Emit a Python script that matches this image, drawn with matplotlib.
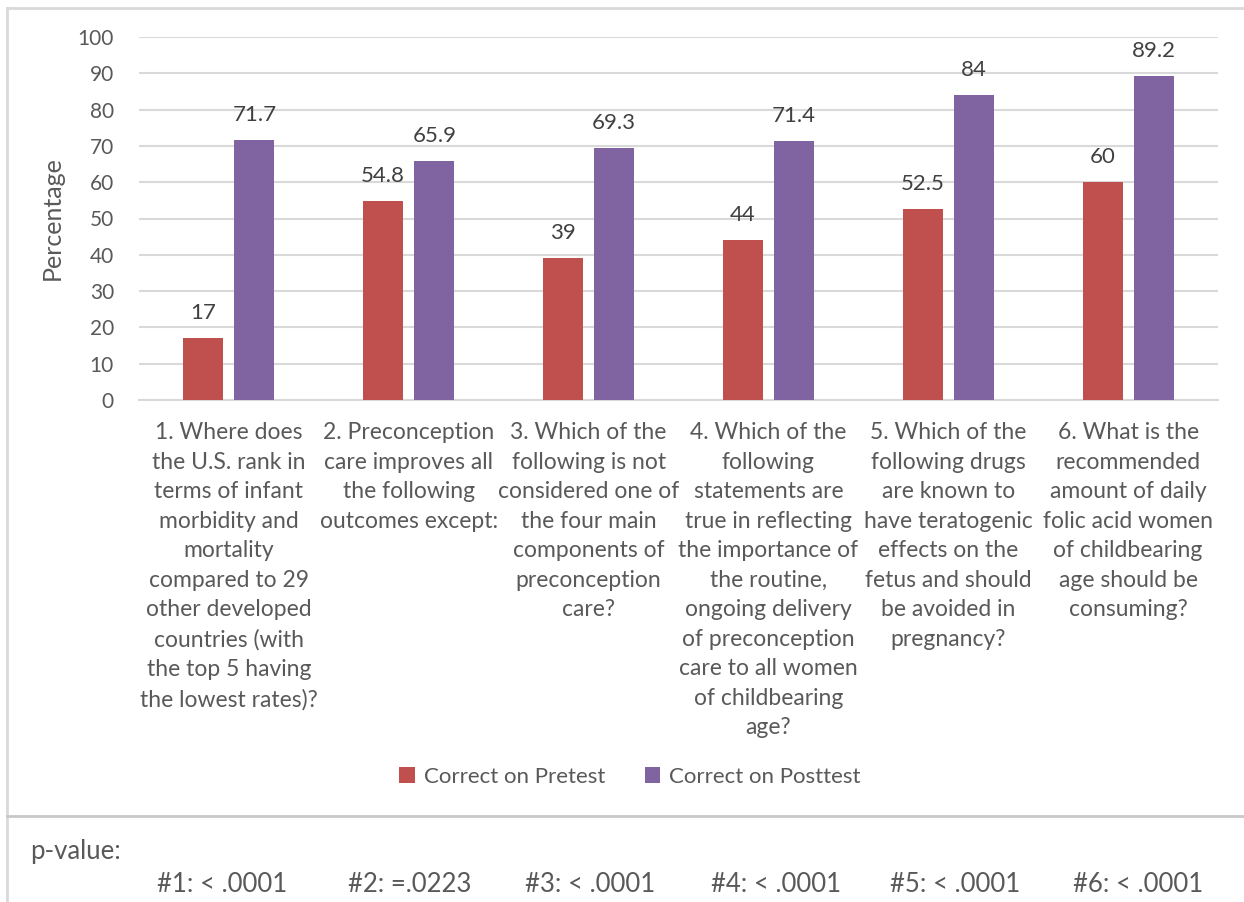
import matplotlib.pyplot as plt
from matplotlib.lines import Line2D
import numpy as np

plt.rcParams['font.family'] = ['Lato', 'DejaVu Sans']

categories = [
    "1. Where does\nthe U.S. rank in\nterms of infant\nmorbidity and\nmortality\ncompared to 29\nother developed\ncountries (with\nthe top 5 having\nthe lowest rates)?",
    "2. Preconception\ncare improves all\nthe following\noutcomes except:",
    "3. Which of the\nfollowing is not\nconsidered one of\nthe four main\ncomponents of\npreconception\ncare?",
    "4. Which of the\nfollowing\nstatements are\ntrue in reflecting\nthe importance of\nthe routine,\nongoing delivery\nof preconception\ncare to all women\nof childbearing\nage?",
    "5. Which of the\nfollowing drugs\nare known to\nhave teratogenic\neffects on the\nfetus and should\nbe avoided in\npregnancy?",
    "6. What is the\nrecommended\namount of daily\nfolic acid women\nof childbearing\nage should be\nconsuming?",
]
pretest = [17, 54.8, 39, 44, 52.5, 60]
posttest = [71.7, 65.9, 69.3, 71.4, 84, 89.2]
pretest_labels = ["17", "54.8", "39", "44", "52.5", "60"]
posttest_labels = ["71.7", "65.9", "69.3", "71.4", "84", "89.2"]
p_values = ["#1: < .0001", "#2: =.0223", "#3: < .0001", "#4: < .0001", "#5: < .0001", "#6: < .0001"]

txt = '#595959'
red = '#C0504D'
purple = '#8064A2'

fig = plt.figure(figsize=(12.44, 9.02), dpi=100)
ax = fig.add_axes([139/1244, 1 - 400/902, (1218 - 139)/1244, 363/902])

x = np.arange(len(categories))
w = 0.222
off = 0.142
b1 = ax.bar(x - off, pretest, w, color=red, label='Correct on Pretest', zorder=3)
b2 = ax.bar(x + off, posttest, w, color=purple, label='Correct on Posttest', zorder=3)

for bars, labs in ((b1, pretest_labels), (b2, posttest_labels)):
    for r, s in zip(bars, labs):
        ax.annotate(s, (r.get_x() + r.get_width()/2, r.get_height()),
                    xytext=(0, 18), textcoords='offset points',
                    ha='center', va='center', fontsize=16, color='#404040')

ax.set_xlim(-0.5, len(categories) - 0.5)
ax.set_ylim(0, 100)
ax.set_yticks(range(0, 101, 10))
ax.yaxis.grid(True, color='#D9D9D9', linewidth=1.5, zorder=0)
for s in ['top', 'right', 'left']:
    ax.spines[s].set_visible(False)
ax.spines['bottom'].set_color('#D9D9D9')
ax.spines['bottom'].set_linewidth(1.5)
ax.tick_params(axis='both', length=0, labelsize=15, labelcolor=txt)
ax.tick_params(axis='y', pad=18)
ax.set_xticks(x)
ax.set_xticklabels(categories, linespacing=1.5, va='top', fontsize=16.5)
ax.tick_params(axis='x', pad=16)
ax.set_ylabel('Percentage', fontsize=18, color=txt, labelpad=10)

fig.legend(handles=[b1, b2], loc='center', bbox_to_anchor=(630/1244, 1 - 777/902),
           ncol=2, frameon=False, fontsize=16, labelcolor=txt,
           handlelength=0.7, handleheight=0.7, handletextpad=0.4, columnspacing=1.8)

# chart border and separator
border = '#D9D9D9'
fig.add_artist(Line2D([7/1244, 7/1244], [0, 1 - 8/902], color=border, lw=2, transform=fig.transFigure))
fig.add_artist(Line2D([7/1244, 1], [1 - 8/902, 1 - 8/902], color=border, lw=2, transform=fig.transFigure))
fig.add_artist(Line2D([7/1244, 1], [1 - 816/902, 1 - 816/902], color='#C8C8C8', lw=2, transform=fig.transFigure))

fig.text(30/1244, 1 - 852/902, 'p-value:', fontsize=18.5, color=txt, va='center')
p_x = [222, 410, 590, 776, 955, 1138]
for px, s in zip(p_x, p_values):
    fig.text(px/1244, 1 - 885/902, s, fontsize=18.5, color=txt, ha='center', va='center')

fig.savefig('out.png', dpi=100)
